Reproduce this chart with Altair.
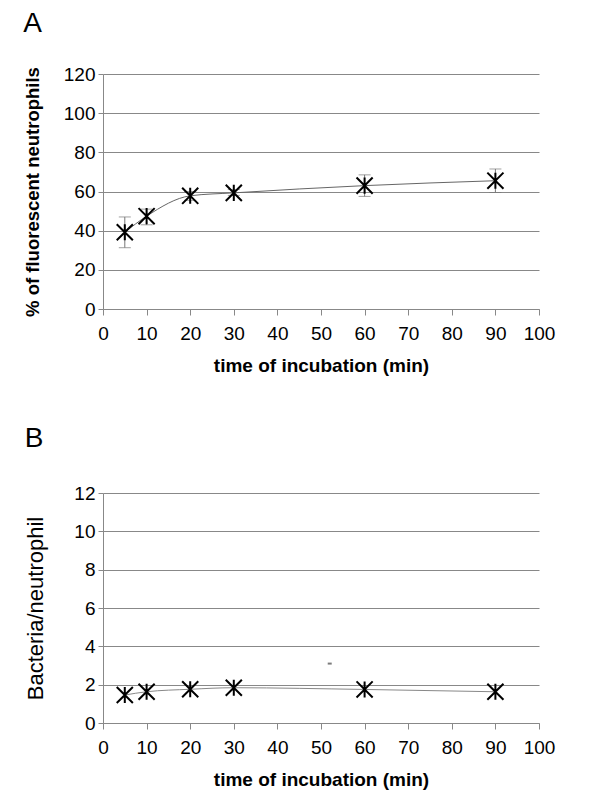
import altair as alt
import pandas as pd

time_min = [5, 10, 20, 30, 60, 90]
pct_fluor = [39.2, 47.4, 57.8, 59.3, 63.0, 65.5]
pct_low = [31.3, 43.0, 55.5, 58.0, 57.5, 59.5]
pct_high = [47.0, 51.0, 60.0, 61.0, 68.5, 71.5]
bact_per_neut = [1.46, 1.63, 1.76, 1.84, 1.75, 1.63]
stray_x = [52]
stray_y = [3.1]

x_ticks = list(range(0, 101, 10))
yA_ticks = list(range(0, 121, 20))
yB_ticks = list(range(0, 13, 2))

dfA = pd.DataFrame({"t": time_min, "v": pct_fluor, "lo": pct_low, "hi": pct_high})
dfB = pd.DataFrame({"t": time_min, "v": bact_per_neut})
dfS = pd.DataFrame({"t": stray_x, "v": stray_y})

FONT = "Liberation Sans"
STAR = "M-1,-1L1,1M1,-1L-1,1M0,-1L0,1"
W = 436

X_AXIS = alt.Axis(
    values=x_ticks, title="time of incubation (min)", grid=False,
    domainColor="#888888", tickColor="#888888", tickSize=6, tickCount=11,
    labelFontSize=19, labelColor="#000000", labelPadding=9,
    titleFontSize=19, titleFontWeight="bold", titlePadding=13,
    titleColor="#000000", labelFlush=False, labelOverlap=False,
)
X_SCALE = alt.Scale(domain=[0, 100], nice=False)


def y_axis(ticks, title, bold):
    return alt.Axis(
        values=ticks, title=title, grid=True, gridColor="#888888", gridWidth=1,
        domainColor="#888888", tickColor="#888888", tickSize=5, tickCount=len(ticks),
        labelFontSize=19, labelColor="#000000", labelPadding=3, labelOverlap=False,
        titleFontSize=18.5 if bold else 22,
        titleFontWeight="bold" if bold else "normal",
        titleColor="#000000", titlePadding=21 if bold else 26,
    )


AX_A = y_axis(yA_ticks, "% of fluorescent neutrophils", True)
SC_A = alt.Scale(domain=[0, 120], nice=False)
AX_B = y_axis(yB_ticks, "Bacteria/neutrophil", False)
SC_B = alt.Scale(domain=[0, 12], nice=False)


def xe():
    return alt.X("t:Q", scale=X_SCALE, axis=X_AXIS)


def ye(field, ax, sc):
    return alt.Y(field, scale=sc, axis=ax)


baseA = alt.Chart(dfA)
lineA = baseA.mark_line(color="#666666", strokeWidth=1, interpolate="monotone").encode(
    x=xe(), y=ye("v:Q", AX_A, SC_A))
errA = baseA.mark_rule(color="#777777", strokeWidth=1).encode(
    x=xe(), y=ye("lo:Q", AX_A, SC_A), y2="hi:Q")
capLoA = baseA.mark_tick(color="#777777", orient="horizontal", size=12, thickness=1).encode(
    x=xe(), y=ye("lo:Q", AX_A, SC_A))
capHiA = baseA.mark_tick(color="#777777", orient="horizontal", size=12, thickness=1).encode(
    x=xe(), y=ye("hi:Q", AX_A, SC_A))
ptsA = baseA.mark_point(shape=STAR, size=260, color="#000000", strokeWidth=2, filled=False, opacity=1).encode(
    x=xe(), y=ye("v:Q", AX_A, SC_A))

chartA = alt.layer(lineA, errA, capLoA, capHiA, ptsA).properties(
    width=W, height=235,
    title=alt.TitleParams("A", anchor="start", frame="bounds", fontSize=28,
                          fontWeight="normal", font=FONT, offset=27, color="#000000"),
)

baseB = alt.Chart(dfB)
lineB = baseB.mark_line(color="#888888", strokeWidth=1, interpolate="monotone").encode(
    x=xe(), y=ye("v:Q", AX_B, SC_B))
ptsB = baseB.mark_point(shape=STAR, size=260, color="#000000", strokeWidth=2, filled=False, opacity=1).encode(
    x=xe(), y=ye("v:Q", AX_B, SC_B))
stray = alt.Chart(dfS).mark_tick(color="#444444", orient="horizontal", size=4, thickness=2).encode(
    x=xe(), y=ye("v:Q", AX_B, SC_B))

chartB = alt.layer(lineB, stray, ptsB).properties(
    width=W, height=230,
    title=alt.TitleParams("B", anchor="start", frame="bounds", fontSize=28,
                          fontWeight="normal", font=FONT, offset=31, color="#000000"),
)

chart = alt.vconcat(chartA, chartB, spacing=50).configure(
    font=FONT,
).configure_view(stroke=None).configure_axis(labelFont=FONT, titleFont=FONT).configure_title(baseline="top").properties(
    background="#ffffff", padding={"left": 15, "top": 2, "right": 5, "bottom": 5}
)

chart.save("out.html", embed_options={"renderer": "svg", "actions": False})
